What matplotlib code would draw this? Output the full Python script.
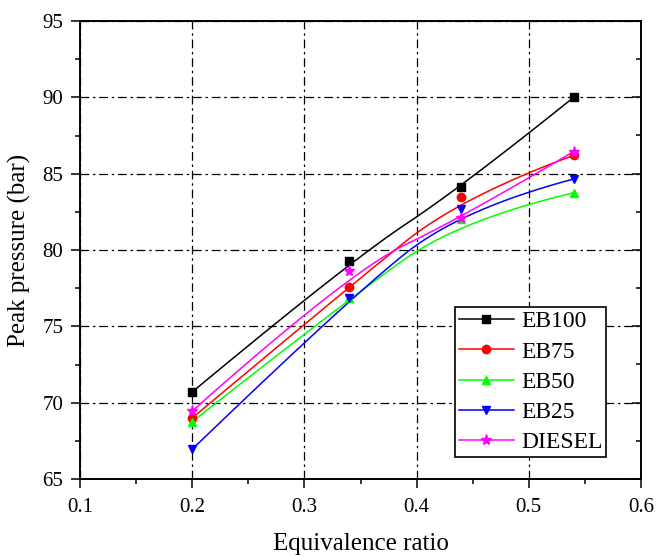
import numpy as np
import matplotlib
matplotlib.use("Agg")
import matplotlib.pyplot as plt
from matplotlib.ticker import MultipleLocator, FormatStrFormatter

equivalence_ratio = [0.2, 0.34, 0.44, 0.54]
eb100 = [70.7, 79.25, 84.1, 90.0]
eb75 = [69.0, 77.6, 83.5, 86.2]
eb50 = [68.75, 76.85, 82.0, 83.75]
eb25 = [66.95, 76.85, 82.7, 84.65]
diesel = [69.45, 78.6, 82.1, 86.45]

series = [
    ("EB100", eb100, "black", "s"),
    ("EB75", eb75, "red", "o"),
    ("EB50", eb50, "#00ff00", "^"),
    ("EB25", eb25, "blue", "v"),
    ("DIESEL", diesel, "magenta", "*"),
]


def bspline_curve(px, py, degree=2, num=300):
    """Clamped B-spline using the data points as control points (Origin-style B-spline line)."""
    P = np.column_stack([px, py]).astype(float)
    n = len(P)
    k = degree
    inner = np.linspace(0, 1, n - k + 1)
    knots = np.concatenate([np.zeros(k), inner, np.ones(k)])
    ts = np.linspace(0, 1, num)
    out = []
    for t in ts:
        if t >= 1:
            span = n - 1
        else:
            span = np.searchsorted(knots, t, side='right') - 1
        d = [P[j + span - k].copy() for j in range(k + 1)]
        for r in range(1, k + 1):
            for j in range(k, r - 1, -1):
                i = j + span - k
                denom = knots[i + k + 1 - r] - knots[i]
                a = 0 if denom == 0 else (t - knots[i]) / denom
                d[j] = (1 - a) * d[j - 1] + a * d[j]
        out.append(d[k])
    out = np.array(out)
    return out[:, 0], out[:, 1]


plt.rcParams['font.family'] = ['Liberation Serif', 'DejaVu Serif']

fig = plt.figure(figsize=(6.57, 5.56), dpi=100)
ax = fig.add_axes([80 / 657, 1 - 479 / 556, (641 - 80) / 657, (479 - 21) / 556])

for name, vals, color, marker in series:
    cx, cy = bspline_curve(equivalence_ratio, vals)
    ax.plot(cx, cy, color=color, lw=1.1, zorder=3)
    ms = 8 if marker == "*" else 6
    ax.plot(equivalence_ratio, vals, linestyle='none', marker=marker, color=color,
            markersize=ms, zorder=4)
    ax.plot([], [], color=color, lw=1.1, marker=marker, markersize=ms, label=name)

ax.set_xlim(0.1, 0.6)
ax.set_ylim(65, 95)
ax.xaxis.set_major_locator(MultipleLocator(0.1))
ax.xaxis.set_minor_locator(MultipleLocator(0.05))
ax.yaxis.set_major_locator(MultipleLocator(5))
ax.yaxis.set_minor_locator(MultipleLocator(2.5))
ax.xaxis.set_major_formatter(FormatStrFormatter('%.1f'))
ax.yaxis.set_major_formatter(FormatStrFormatter('%d'))

ax.grid(True, which='major', color='black', linestyle=(0, (7, 3, 2, 3)), lw=0.9)
ax.tick_params(axis='both', which='major', direction='out', length=6.5, width=1.1,
               labelsize=15)
ax.tick_params(axis='both', which='minor', direction='out', length=3.5, width=1.1)
ax.tick_params(axis='x', which='major', pad=7)
ax.tick_params(axis='y', which='major', pad=5.5)
for s in ax.spines.values():
    s.set_linewidth(1.2)

# right-side inward ticks
ax_r = ax.twinx()
ax_r.set_ylim(ax.get_ylim())
ax_r.yaxis.set_major_locator(MultipleLocator(5))
ax_r.yaxis.set_minor_locator(MultipleLocator(2.5))
ax_r.tick_params(axis='y', which='major', direction='in', length=6.5, width=1.1,
                 labelright=False)
ax_r.tick_params(axis='y', which='minor', direction='in', length=3.5, width=1.1)
for s in ax_r.spines.values():
    s.set_linewidth(1.2)

ax.set_xlabel("Equivalence ratio", fontsize=18, labelpad=12)
ax.set_ylabel("Peak pressure (bar)", fontsize=18, labelpad=8)

leg = ax_r.legend(*ax.get_legend_handles_labels(), loc='lower right',
                  bbox_to_anchor=((606 - 80) / 561, (479 - 457) / 458),
                  fontsize=17, frameon=True, fancybox=False, handlelength=2.35,
                  labelspacing=0.37, borderpad=0.15, handletextpad=0.3, borderaxespad=0)
leg.get_frame().set_edgecolor('black')
leg.get_frame().set_linewidth(1.2)
leg.get_frame().set_alpha(1)

fig.savefig("out.png", dpi=100)
